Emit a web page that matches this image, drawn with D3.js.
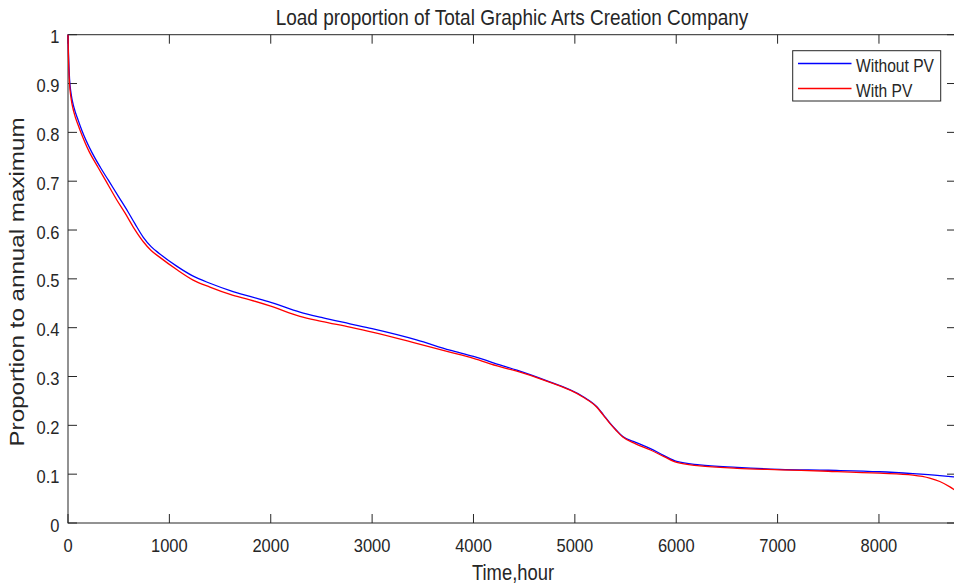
<!DOCTYPE html>
<html>
<head>
<meta charset="utf-8">
<script src="https://cdn.jsdelivr.net/npm/d3@7"></script>
<style>
  html, body { margin: 0; padding: 0; background: #fff; }
  svg { display: block; }
  text { font-family: "Liberation Sans", Arial, Helvetica, sans-serif; fill: #262626; }
</style>
</head>
<body>
<svg id="chart" width="954" height="587"></svg>
<script>
// Annual load duration curves (hour of year vs. proportion of annual maximum)
const hoursWithout = [0, 5, 15, 30, 60, 100, 135, 233, 320, 398, 500, 590, 660, 743, 820, 900, 1072, 1230, 1400, 1600, 1795, 2000, 2288, 2500, 2781, 3000, 3438, 3767, 4000, 4260, 4428, 4700, 5079, 5217, 5280, 5345, 5410, 5473, 5600, 5740, 5880, 6005, 6232, 6600, 7021, 7500, 8007, 8335, 8600, 8760];
const loadWithout = [1.0, 0.96, 0.91, 0.88, 0.85, 0.825, 0.805, 0.760, 0.728, 0.702, 0.668, 0.638, 0.613, 0.585, 0.566, 0.552, 0.526, 0.506, 0.491, 0.476, 0.464, 0.452, 0.432, 0.421, 0.408, 0.398, 0.375, 0.354, 0.341, 0.324, 0.313, 0.293, 0.259, 0.238, 0.222, 0.205, 0.19, 0.177, 0.165, 0.153, 0.138, 0.126, 0.119, 0.114, 0.110, 0.108, 0.105, 0.101, 0.097, 0.094];

const hoursWith = [0, 5, 15, 30, 60, 100, 118, 210, 300, 375, 480, 562, 650, 743, 820, 900, 1072, 1230, 1400, 1600, 1795, 2000, 2288, 2500, 2781, 3000, 3438, 3767, 4000, 4260, 4428, 4700, 5079, 5217, 5280, 5345, 5410, 5473, 5600, 5740, 5880, 6005, 6232, 6600, 7021, 7500, 8007, 8335, 8500, 8600, 8700, 8760];
const loadWith = [1.0, 0.95, 0.90, 0.87, 0.84, 0.815, 0.805, 0.760, 0.727, 0.700, 0.662, 0.635, 0.604, 0.576, 0.558, 0.545, 0.519, 0.498, 0.483, 0.468, 0.457, 0.444, 0.423, 0.413, 0.401, 0.391, 0.368, 0.350, 0.337, 0.320, 0.311, 0.292, 0.258, 0.237, 0.221, 0.204, 0.189, 0.176, 0.162, 0.150, 0.136, 0.124, 0.117, 0.112, 0.109, 0.106, 0.102, 0.098, 0.092, 0.085, 0.074, 0.066];

const xTicks = [0, 1000, 2000, 3000, 4000, 5000, 6000, 7000, 8000];
const yTicks = [0, 0.1, 0.2, 0.3, 0.4, 0.5, 0.6, 0.7, 0.8, 0.9, 1];
const seriesNames = ["Without PV", "With PV"];
const seriesColors = ["#0000ff", "#ff0000"];

const svg = d3.select("#chart");
const plotL = 68, plotR = 956, plotT = 34.7, plotB = 523;
const tickLen = 9;
const stretch = 1.15;   // text is drawn slightly taller than wide
const axisColor = "#262626";

const x = d3.scaleLinear().domain([0, 8760]).range([plotL, plotR]);
const y = d3.scaleLinear().domain([0, 1]).range([plotB, plotT]);

function label(g, tx, ty, str, size, anchor, rot, sy) {
  return g.append("text")
    .attr("transform", `translate(${tx},${ty}) scale(1,${sy || stretch})` + (rot ? ` rotate(${rot})` : ""))
    .attr("text-anchor", anchor)
    .style("font-size", size + "px")
    .text(str);
}

// Axes box
svg.append("rect")
  .attr("x", plotL).attr("y", plotT)
  .attr("width", plotR - plotL).attr("height", plotB - plotT)
  .attr("fill", "#fff").attr("stroke", axisColor).attr("stroke-width", 1);

// Bottom / top x ticks and labels
const gx = svg.append("g");
xTicks.forEach(t => {
  const px = x(t);
  gx.append("line").attr("x1", px).attr("x2", px).attr("y1", plotB).attr("y2", plotB - tickLen)
    .attr("stroke", axisColor);
  gx.append("line").attr("x1", px).attr("x2", px).attr("y1", plotT).attr("y2", plotT + tickLen)
    .attr("stroke", axisColor);
  label(gx, px, 551.5, String(t), 16.5, "middle");
});

// Left / right y ticks and labels
const gy = svg.append("g");
yTicks.forEach(t => {
  const py = y(t);
  gy.append("line").attr("x1", plotL).attr("x2", plotL + tickLen).attr("y1", py).attr("y2", py)
    .attr("stroke", axisColor);
  gy.append("line").attr("x1", plotR).attr("x2", plotR - tickLen).attr("y1", py).attr("y2", py)
    .attr("stroke", axisColor);
  label(gy, 59.5, py + 8.5, d3.format("~g")(t), 16.5, "end");
});

// Curves
const series = [
  { name: seriesNames[0], color: seriesColors[0], data: hoursWithout.map((h, i) => [h, loadWithout[i]]) },
  { name: seriesNames[1], color: seriesColors[1], data: hoursWith.map((h, i) => [h, loadWith[i]]) }
];
const line = d3.line().x(d => x(d[0])).y(d => y(d[1])).curve(d3.curveMonotoneX);
svg.append("g").selectAll("path").data(series).join("path")
  .attr("d", d => line(d.data))
  .attr("fill", "none")
  .attr("stroke", d => d.color)
  .attr("stroke-width", 1.3);

// Title and axis labels
label(svg, 512, 24.5, "Load proportion of Total Graphic Arts Creation Company", 19, "middle");
label(svg, 513, 580, "Time,hour", 18.4, "middle");
label(svg, 24, 282, "Proportion to annual maximum", 19.5, "middle", -90, 1.24);

// Legend
const lg = svg.append("g");
lg.append("rect").attr("x", 792.7).attr("y", 50.7).attr("width", 148).attr("height", 50.3)
  .attr("fill", "#fff").attr("stroke", axisColor).attr("stroke-width", 1);
series.forEach((s, i) => {
  const ly = 63.5 + i * 25;
  lg.append("line").attr("x1", 798).attr("x2", 851.5).attr("y1", ly).attr("y2", ly)
    .attr("stroke", s.color).attr("stroke-width", 1.3);
  label(lg, 856, ly + 8.2, s.name, 15.6, "start");
});
</script>
</body>
</html>
